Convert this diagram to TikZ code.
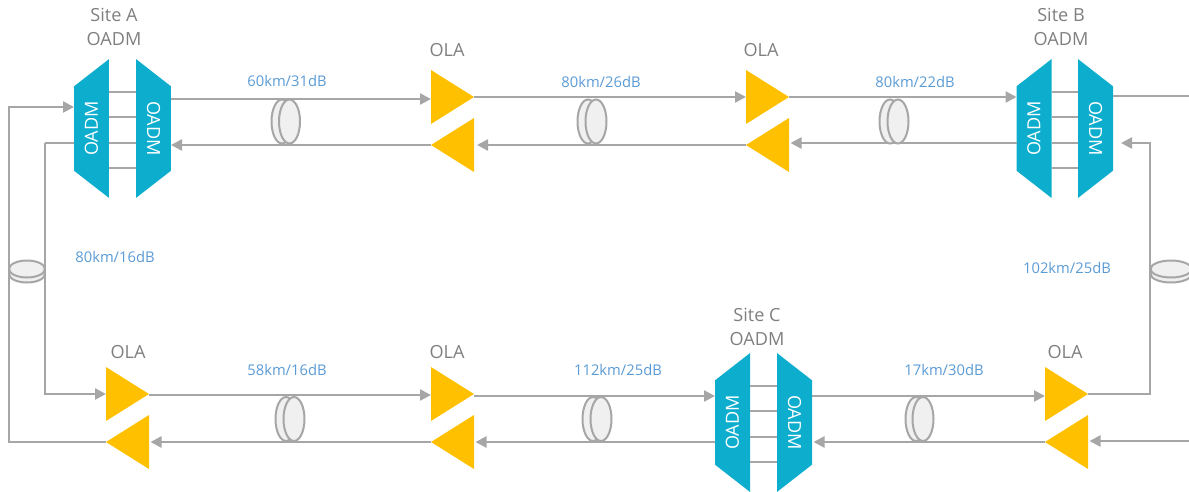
\documentclass[tikz,border=0pt]{standalone}
\usepackage{fontspec}
\setmainfont{Open Sans}
\usetikzlibrary{arrows.meta,shapes.geometric}
\definecolor{linegray}{HTML}{A6A6A6}
\definecolor{textgray}{HTML}{7F7F7F}
\definecolor{labelblue}{HTML}{5B9BD5}
\definecolor{oadmblue}{HTML}{0DADCE}
\definecolor{olayellow}{HTML}{FFC000}
\definecolor{fiberfill}{HTML}{F0F0F0}
\tikzset{
	oadm/.style={trapezium,trapezium left angle=37,trapezium right angle=37,trapezium stretches,minimum width=2.78cm,minimum height=0.7cm,inner sep=0pt,outer sep=0pt,fill=oadmblue,text=white,font=\fontsize{10.3}{12}\selectfont},
	oadmleft/.style={oadm,rotate=90},
	oadmright/.style={oadm,rotate=-90},
	ola/.style={isosceles triangle,isosceles triangle stretches,minimum width=1.08cm,minimum height=0.86cm,inner sep=0pt,outer sep=0pt,fill=olayellow,anchor=lower side},
	olafwd/.style={ola},
	olaback/.style={ola,shape border rotate=180},
	link/.style={draw=linegray,line width=0.048cm},
	arrowlink/.style={link,-{Triangle[length=0.22cm,width=0.22cm]}},
	fiber/.style={ellipse,draw=linegray,line width=0.04cm,fill=fiberfill,inner sep=0pt,minimum width=0.42cm,minimum height=0.88cm},
	fiberflat/.style={fiber,minimum width=0.72cm,minimum height=0.34cm},
	sitelabel/.style={text=textgray,align=center,font=\fontsize{10.3}{13.6}\selectfont},
	spanlabel/.style={text=labelblue,font=\fontsize{8.4}{10}\selectfont}
}
\begin{document}
\begin{tikzpicture}[x=0.02cm,y=-0.02cm]
	\useasboundingbox (0,0) rectangle (1189,491);

	% sites
	\node[sitelabel] (siteAtext) at (114,27) {Site A\\OADM};
	\node[sitelabel] (siteBtext) at (1061,27) {Site B\\OADM};
	\node[sitelabel] (siteCtext) at (757,327) {Site C\\OADM};

	\node[oadmleft] (siteAleft) at (91.5,128.5) {OADM};
	\node[oadmright] (siteAright) at (153.5,128.5) {OADM};
	\node[oadmleft] (siteBleft) at (1034,128.5) {OADM};
	\node[oadmright] (siteBright) at (1095.5,128.5) {OADM};
	\node[oadmleft] (siteCleft) at (732.5,422.5) {OADM};
	\node[oadmright] (siteCright) at (794.5,422.5) {OADM};

	% amplifiers
	\node[olafwd] (olaAfwd) at (431,97) {};
	\node[olaback] (olaAback) at (474,145) {};
	\node[olafwd] (olaBfwd) at (746,97) {};
	\node[olaback] (olaBback) at (789,145) {};
	\node[olafwd] (olaCfwd) at (106,394) {};
	\node[olaback] (olaCback) at (149,442) {};
	\node[olafwd] (olaDfwd) at (431,394) {};
	\node[olaback] (olaDback) at (474,442) {};
	\node[olafwd] (olaEfwd) at (1045,394) {};
	\node[olaback] (olaEback) at (1088,442) {};

	\node[sitelabel] (olaAtext) at (447,50) {OLA};
	\node[sitelabel] (olaBtext) at (761,50) {OLA};
	\node[sitelabel] (olaCtext) at (128,352) {OLA};
	\node[sitelabel] (olaDtext) at (447,352) {OLA};
	\node[sitelabel] (olaEtext) at (1065,352) {OLA};

	% free ends and bends
	\coordinate (leftOut) at (45,143);
	\coordinate (leftIn) at (9,107);
	\coordinate (rightOut) at (1189,96);
	\coordinate (rightIn) at (1189,441);
	\coordinate (rightUp) at (1150,143);

	% rungs
	\path[link] (siteAleft.south |- 0,92) -- (siteAright.south |- 0,92);
	\path[link] (siteAleft.south |- 0,117) -- (siteAright.south |- 0,117);
	\path[link] (siteAleft.south |- 0,143) -- (siteAright.south |- 0,143);
	\path[link] (siteAleft.south |- 0,168) -- (siteAright.south |- 0,168);
	\path[link] (siteBleft.south |- 0,92) -- (siteBright.south |- 0,92);
	\path[link] (siteBleft.south |- 0,117) -- (siteBright.south |- 0,117);
	\path[link] (siteBleft.south |- 0,143) -- (siteBright.south |- 0,143);
	\path[link] (siteBleft.south |- 0,168) -- (siteBright.south |- 0,168);
	\path[link] (siteCleft.south |- 0,386) -- (siteCright.south |- 0,386);
	\path[link] (siteCleft.south |- 0,411) -- (siteCright.south |- 0,411);
	\path[link] (siteCleft.south |- 0,437) -- (siteCright.south |- 0,437);
	\path[link] (siteCleft.south |- 0,462) -- (siteCright.south |- 0,462);

	% upper line
	\path[arrowlink] (siteAright.north |- 0,99) -- (olaAfwd.lower side |- 0,99);
	\path[arrowlink] (olaAfwd.apex) -- (olaBfwd.lower side);
	\path[arrowlink] (olaBfwd.apex) -- (siteBleft.north |- 0,97);
	\path[link] (siteBright.north |- 0,96) -- (rightOut);
	\path[arrowlink] (olaAback.apex) -- (siteAright.north |- 0,145);
	\path[arrowlink,shorten >=0.06cm] (olaBback.apex) -- (olaAback.lower side);
	\path[arrowlink,shorten >=0.03cm] (siteBleft.north |- 0,143) -- (olaBback.lower side |- 0,143);

	% lower line
	\path[arrowlink] (olaCfwd.apex |- 0,395) -- (olaDfwd.lower side |- 0,395);
	\path[arrowlink] (olaDfwd.apex |- 0,396) -- (siteCleft.north |- 0,396);
	\path[arrowlink] (siteCright.north |- 0,396) -- (olaEfwd.lower side |- 0,396);
	\path[arrowlink,shorten >=0.03cm] (olaDback.apex) -- (olaCback.lower side);
	\path[arrowlink,shorten >=0.03cm] (siteCleft.north |- 0,442) -- (olaDback.lower side);
	\path[arrowlink,shorten >=0.03cm] (olaEback.apex) -- (siteCright.north |- 0,442);
	\path[arrowlink,shorten >=0.03cm] (rightIn) -- (olaEback.lower side |- 0,441);

	% sides
	\path[link] (siteAleft.north |- leftOut) -- (leftOut);
	\path[arrowlink] (leftOut) -- (leftOut |- olaCfwd.lower side) -- (olaCfwd.lower side);
	\path[arrowlink] (olaCback.apex) -- (leftIn |- olaCback.apex) -- (leftIn) -- (siteAleft.north |- leftIn);
	\path[arrowlink,shorten >=0.16cm] (olaEfwd.apex) -- (rightUp |- olaEfwd.apex) -- (rightUp) -- (siteBright.north |- rightUp);

	% fibers
	\node[fiber] (fiberAback) at (282,121.5) {};
	\node[fiber] (fiberAfront) at (289.5,121.5) {};
	\node[fiber] (fiberBback) at (588,121.5) {};
	\node[fiber] (fiberBfront) at (596,121.5) {};
	\node[fiber] (fiberCback) at (890,121.5) {};
	\node[fiber] (fiberCfront) at (898,121.5) {};
	\node[fiber] (fiberDback) at (286,419) {};
	\node[fiber] (fiberDfront) at (294,419) {};
	\node[fiber] (fiberEback) at (593,419) {};
	\node[fiber] (fiberEfront) at (601,419) {};
	\node[fiber] (fiberFback) at (916,419) {};
	\node[fiber] (fiberFfront) at (923,419) {};
	\node[fiberflat] (fiberLback) at (27,274) {};
	\node[fiberflat] (fiberLfront) at (27,269) {};
	\node[fiberflat,minimum width=0.82cm] (fiberRback) at (1171,274) {};
	\node[fiberflat,minimum width=0.82cm] (fiberRfront) at (1171,269) {};

	% spans
	\node[spanlabel] (spanA) at (287,81) {60km/31dB};
	\node[spanlabel] (spanB) at (601,82) {80km/26dB};
	\node[spanlabel] (spanC) at (915,82) {80km/22dB};
	\node[spanlabel] (spanD) at (115,257) {80km/16dB};
	\node[spanlabel] (spanE) at (1067,268) {102km/25dB};
	\node[spanlabel] (spanF) at (287,370) {58km/16dB};
	\node[spanlabel] (spanG) at (618,370) {112km/25dB};
	\node[spanlabel] (spanH) at (944,370) {17km/30dB};
\end{tikzpicture}
\end{document}
